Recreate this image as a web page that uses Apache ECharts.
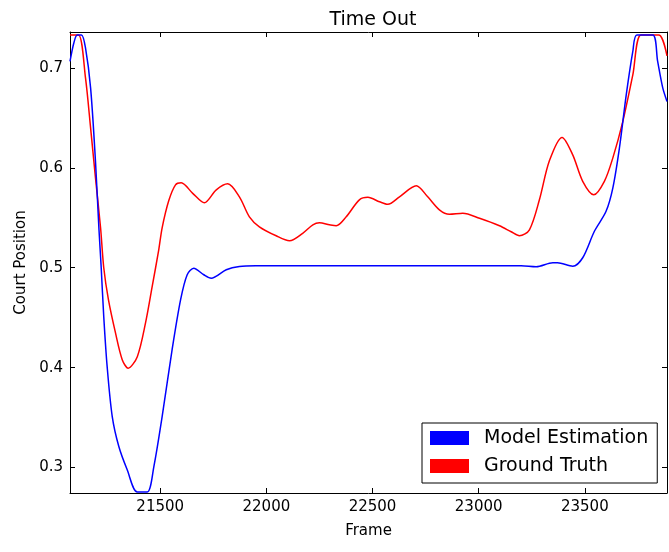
<!DOCTYPE html>
<html>
<head>
<meta charset="utf-8">
<title>Time Out</title>
<script src="https://cdn.jsdelivr.net/npm/echarts@6/dist/echarts.min.js"></script>
<style>
  html, body { margin: 0; padding: 0; background: #fff; }
  #chart { width: 669px; height: 552px; }
</style>
</head>
<body>
<div id="chart"></div>
<script>
// values
const modelFrames = [21075, 21093, 21109, 21129, 21148, 21172, 21195, 21211, 21222, 21234, 21250, 21274, 21305, 21344, 21392, 21439, 21470, 21509, 21556, 21596, 21627, 21658, 21705, 21740, 21811, 21873, 21950, 22200, 22500, 22800, 23100, 23200, 23271, 23349, 23371, 23443, 23490, 23545, 23600, 23632, 23663, 23695, 23726, 23745, 23820, 23843, 23867, 23887];
const modelValues = [0.7065, 0.725, 0.733, 0.733, 0.720, 0.680, 0.6065, 0.540, 0.500, 0.451, 0.401, 0.351, 0.321, 0.298, 0.2755, 0.2755, 0.301, 0.351, 0.418, 0.468, 0.493, 0.4995, 0.493, 0.4895, 0.498, 0.5013, 0.502, 0.502, 0.502, 0.502, 0.502, 0.502, 0.501, 0.505, 0.505, 0.5015, 0.510, 0.5365, 0.5565, 0.580, 0.620, 0.673, 0.7165, 0.733, 0.733, 0.7065, 0.680, 0.6665];

const truthFrames = [21075, 21115, 21148, 21172, 21195, 21219, 21234, 21256, 21289, 21321, 21349, 21392, 21431, 21462, 21493, 21509, 21540, 21572, 21599, 21653, 21708, 21764, 21818, 21873, 21920, 21967, 22046, 22109, 22171, 22219, 22250, 22297, 22329, 22376, 22438, 22478, 22533, 22572, 22627, 22706, 22760, 22815, 22862, 22925, 23004, 23098, 23153, 23192, 23239, 23286, 23333, 23393, 23443, 23490, 23542, 23592, 23632, 23679, 23726, 23765, 23848, 23887];
const truthValues = [0.733, 0.733, 0.690, 0.640, 0.590, 0.540, 0.500, 0.468, 0.435, 0.408, 0.3995, 0.411, 0.445, 0.481, 0.518, 0.540, 0.567, 0.583, 0.585, 0.5745, 0.565, 0.578, 0.584, 0.571, 0.551, 0.541, 0.532, 0.527, 0.5345, 0.543, 0.545, 0.543, 0.542, 0.551, 0.568, 0.5705, 0.566, 0.5635, 0.571, 0.582, 0.571, 0.558, 0.5535, 0.5545, 0.5495, 0.542, 0.536, 0.532, 0.538, 0.568, 0.607, 0.6305, 0.613, 0.5865, 0.573, 0.5865, 0.610, 0.6465, 0.693, 0.733, 0.733, 0.712];

const xMin = 21075, xMax = 23887;
const yMin = 0.2745, yMax = 0.736;

const font = 'DejaVu Sans'

function pairs(xs, ys) {
  return xs.map((x, i) => [x, ys[i]])
}

const chart = echarts.init(document.getElementById('chart'))

const axisLine = { show: true, lineStyle: { color: '#000', width: 1 } }
const tick = { show: true, inside: true, length: 5, lineStyle: { color: '#000' } }

chart.setOption({
  animation: false,
  backgroundColor: '#fff',
  title: {
    text: 'Time Out',
    left: 368, top: 6, textAlign: 'center',
    textStyle: { fontFamily: font, fontSize: 19, fontWeight: 'normal', color: '#000' }
  },
  grid: { left: 70, right: 2, top: 32, bottom: 59 },
  legend: {
    orient: 'vertical',
    left: 422, top: 423,
    icon: 'rect',
    itemWidth: 39, itemHeight: 14, itemGap: 8,
    padding: [5, 9, 7, 8],
    borderColor: '#000', borderWidth: 1,
    backgroundColor: '#fff',
    textStyle: { fontFamily: font, fontSize: 19, color: '#000', lineHeight: 20, padding: [0, 0, 0, 10] },
    data: ['Model Estimation', 'Ground Truth']
  },
  xAxis: [{
    type: 'value', min: xMin, max: xMax,
    name: 'Frame', nameLocation: 'middle', nameGap: 31,
    nameTextStyle: { fontFamily: font, fontSize: 15, color: '#000' },
    axisLine, axisTick: tick, splitLine: { show: false },
    axisLabel: {
      fontFamily: font, fontSize: 15, color: '#000', margin: 7,
      showMinLabel: false, showMaxLabel: false,
      formatter: v => String(v)
    }
  }, {
    type: 'value', min: xMin, max: xMax, position: 'top',
    axisLine, axisTick: tick, splitLine: { show: false },
    axisLabel: { show: false }
  }],
  yAxis: [{
    type: 'value', min: yMin, max: yMax,
    name: 'Court Position', nameLocation: 'middle', nameGap: 41,
    nameTextStyle: { fontFamily: font, fontSize: 15, color: '#000' },
    axisLine, axisTick: tick, splitLine: { show: false },
    axisLabel: { fontFamily: font, fontSize: 15, color: '#000', margin: 7, showMinLabel: false, showMaxLabel: false }
  }, {
    type: 'value', min: yMin, max: yMax, position: 'right',
    axisLine, axisTick: tick, splitLine: { show: false },
    axisLabel: { show: false }
  }],
  series: [{
    name: 'Model Estimation',
    type: 'line',
    data: pairs(modelFrames, modelValues),
    smooth: 0.3,
    showSymbol: false,
    itemStyle: { color: '#0000ff' },
    lineStyle: { color: '#0000ff', width: 1.5 },
    z: 3
  }, {
    name: 'Ground Truth',
    type: 'line',
    data: pairs(truthFrames, truthValues),
    smooth: 0.3,
    showSymbol: false,
    itemStyle: { color: '#ff0000' },
    lineStyle: { color: '#ff0000', width: 1.5 },
    z: 2
  }]
})
</script>
</body>
</html>
